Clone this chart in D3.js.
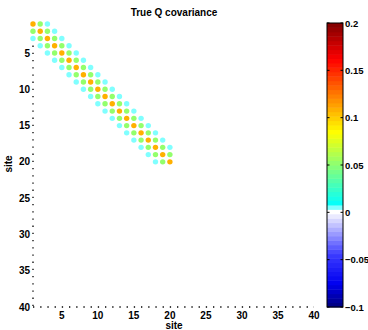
<!DOCTYPE html>
<html>
<head>
<meta charset="utf-8">
<script src="https://cdn.jsdelivr.net/npm/d3@7"></script>
<style>
  body { margin: 0; background: #fff; }
  text { font-family: Arial, "Liberation Sans", Helvetica, sans-serif; font-weight: bold; }
</style>
</head>
<body>
<div id="chart"></div>
<script>
/* global d3 */

// sites on each axis
var sites = d3.range(1, 21);
// covariance by lag |i - j| (0 = diagonal), zero beyond
var lagValues = [0.108, 0.054, 0.006];
var xTicks = [5, 10, 15, 20, 25, 30, 35, 40];
var yTicks = [5, 10, 15, 20, 25, 30, 35, 40];
var cbarTicks = [-0.1, -0.05, 0, 0.05, 0.1, 0.15, 0.2];

var width = 368,
  height = 330,
  margin = { top: 24, right: 54, bottom: 23, left: 33 },
  nLevels = 64;

var cells = [];
sites.forEach(function(i) {
  sites.forEach(function(j) {
    var lag = Math.abs(i - j);
    if (lag < lagValues.length) cells.push({ row: i, col: j, value: lagValues[lag] });
  });
});

var svg = d3
  .select("#chart")
  .append("svg")
  .attr("width", width)
  .attr("height", height);

var xScale = d3.scaleLinear().domain([1, 40]).range([margin.left, 314]);
var yScale = d3.scaleLinear().domain([1, 40]).range([margin.top, 307]);

// colour map: blues for negative, white at zero, jet from cyan upwards
function jet(t) {
  function c(x) { return Math.max(0, Math.min(1, x)); }
  return d3.rgb(
    255 * c(1.5 - Math.abs(4 * t - 3)),
    255 * c(1.5 - Math.abs(4 * t - 2)),
    255 * c(1.5 - Math.abs(4 * t - 1))
  );
}
var negScale = d3
  .scaleLinear()
  .domain([-0.1, -0.075, -0.045, -0.002])
  .range(["#00007c", "#0000f0", "#3a3aff", "#f2f2ff"]);

function rawColor(v) {
  if (v < -0.002) return negScale(v);
  if (v < 0.003) return "#ffffff";
  if (v < 0.009) return "#80ffff";
  return jet(0.375 + (v - 0.008) / 0.192 * 0.625);
}

var cmin = -0.1, cmax = 0.2, step = (cmax - cmin) / nLevels;
function color(v) {
  var k = Math.max(0, Math.min(nLevels - 1, Math.floor((v - cmin) / step)));
  return rawColor(cmin + (k + 0.5) * step);
}

// title
svg.append("text")
  .attr("x", 174)
  .attr("y", 16)
  .attr("text-anchor", "middle")
  .style("font-size", "10px")
  .text("True Q covariance");

// dotted axes
svg.append("line")
  .attr("x1", xScale(1)).attr("x2", xScale(1))
  .attr("y1", yScale(1)).attr("y2", yScale(40))
  .attr("stroke", "#000")
  .attr("stroke-width", 1.3)
  .attr("stroke-dasharray", "1.3,5.9");
svg.append("line")
  .attr("x1", xScale(1)).attr("x2", xScale(40))
  .attr("y1", yScale(40)).attr("y2", yScale(40))
  .attr("stroke", "#000")
  .attr("stroke-width", 1.3)
  .attr("stroke-dasharray", "1.3,5.9");

// tick labels
svg.selectAll(".xtick")
  .data(xTicks)
  .enter()
  .append("text")
  .attr("class", "xtick")
  .attr("x", function(d) { return xScale(d); })
  .attr("y", 319)
  .attr("text-anchor", "middle")
  .style("font-size", "10px")
  .text(function(d) { return d; });

svg.selectAll(".ytick")
  .data(yTicks)
  .enter()
  .append("text")
  .attr("class", "ytick")
  .attr("x", 30)
  .attr("y", function(d) { return yScale(d) + 3.5; })
  .attr("text-anchor", "end")
  .style("font-size", "10px")
  .text(function(d) { return d; });

// axis labels
svg.append("text")
  .attr("x", 174)
  .attr("y", 329)
  .attr("text-anchor", "middle")
  .style("font-size", "10px")
  .text("site");

svg.append("text")
  .attr("transform", "translate(12," + 164 + ")rotate(-90)")
  .attr("text-anchor", "middle")
  .style("font-size", "10px")
  .text("site");

// the matrix entries
svg.selectAll(".cell")
  .data(cells)
  .enter()
  .append("circle")
  .attr("class", "cell")
  .attr("cx", function(d) { return xScale(d.col); })
  .attr("cy", function(d) { return yScale(d.row); })
  .attr("r", 2.7)
  .attr("fill", function(d) { return color(d.value); });

// colorbar
var cbX = 327, cbW = 16;
var cScale = d3.scaleLinear().domain([cmin, cmax]).range([307, 23]);
var levels = d3.range(nLevels).map(function(k) { return cmin + k * step; });

svg.selectAll(".level")
  .data(levels)
  .enter()
  .append("rect")
  .attr("class", "level")
  .attr("x", cbX)
  .attr("width", cbW)
  .attr("y", function(d) { return cScale(d + step); })
  .attr("height", function(d) { return cScale(d) - cScale(d + step) + 0.5; })
  .attr("fill", function(d) { return color(d + step / 2); });

svg.append("rect")
  .attr("x", cbX)
  .attr("y", cScale(cmax))
  .attr("width", cbW)
  .attr("height", cScale(cmin) - cScale(cmax))
  .attr("fill", "none")
  .attr("stroke", "#000")
  .attr("stroke-width", 1);

var cTick = svg.selectAll(".ctick")
  .data(cbarTicks)
  .enter()
  .append("g")
  .attr("class", "ctick")
  .attr("transform", function(d) { return "translate(0," + cScale(d) + ")"; });

cTick.append("line")
  .attr("x1", cbX).attr("x2", cbX + 2.5)
  .attr("stroke", "#000");
cTick.append("line")
  .attr("x1", cbX + cbW - 2.5).attr("x2", cbX + cbW)
  .attr("stroke", "#000");
cTick.append("text")
  .attr("x", cbX + cbW + 2)
  .attr("y", 3.5)
  .style("font-size", "9.5px")
  .text(function(d) { return d < 0 ? "\u2212" + Math.abs(d) : d; });
</script>
</body>
</html>
